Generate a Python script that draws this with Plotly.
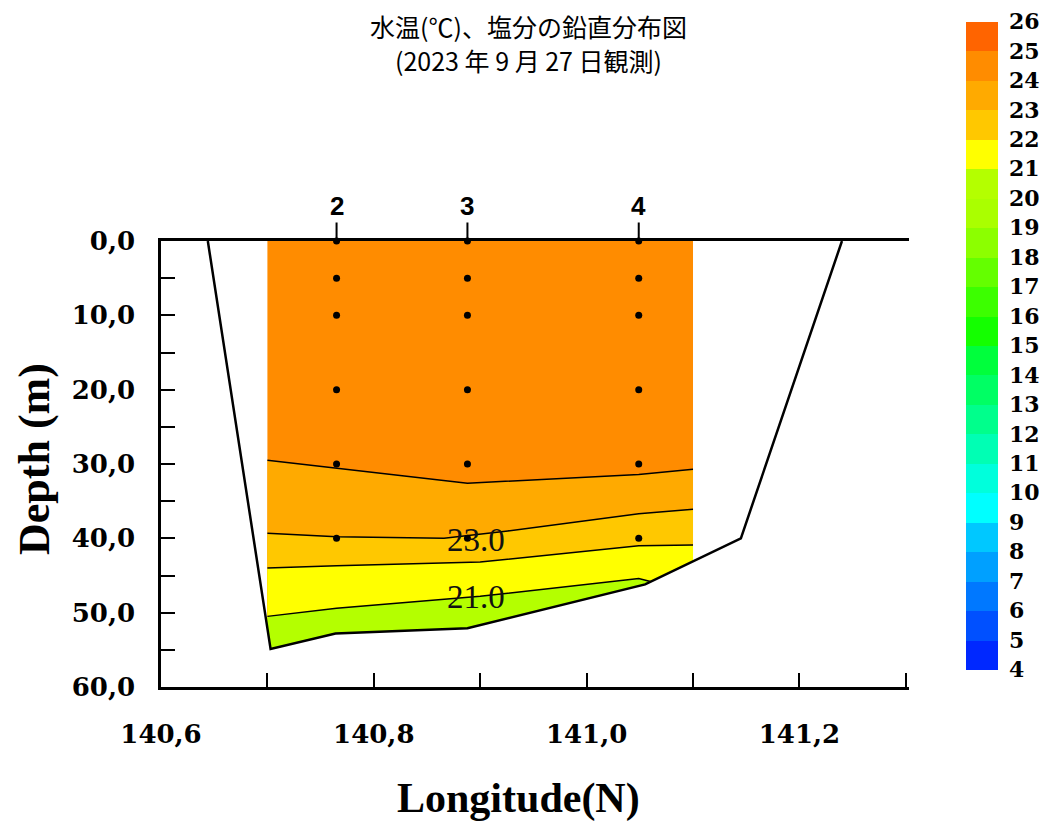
import plotly.graph_objects as go

# ---------------- data ----------------
title_lines = ["水温(℃)、塩分の鉛直分布図", "(2023 年 9 月 27 日観測)"]

station_names = ["2", "3", "4"]
station_lon = [140.765, 140.888, 141.049]
sample_depth = [0, 5, 10, 20, 30, 40]

# extent of the interpolated section (longitude)
section_lon = [140.70, 141.10]
surface_band = 24  # water warmer than 24 degC above the first isotherm

# sea-floor / coast profile (longitude, depth m)
basin_lon = [140.644, 140.703, 140.764, 140.888, 141.055, 141.145, 141.240]
basin_depth = [0, 54.9, 52.8, 52.1, 46.2, 40.0, 0]

# isotherms: depth (m) at given longitudes
iso_levels = [24, 23, 22, 21]
iso24_lon = [140.70, 140.765, 140.888, 141.049, 141.10]
iso24_depth = [29.5, 30.6, 32.6, 31.4, 30.7]
iso23_lon = [140.70, 140.765, 140.866, 140.926, 141.049, 141.10]
iso23_depth = [39.3, 39.8, 40.0, 39.0, 36.7, 36.1]
iso22_lon = [140.70, 140.765, 140.90, 141.049, 141.10]
iso22_depth = [44.0, 43.7, 43.2, 41.0, 40.9]
iso21_lon = [140.70, 140.765, 140.90, 141.049, 141.06]
iso21_depth = [50.5, 49.4, 47.8, 45.4, 45.8]
iso_lon = [iso24_lon, iso23_lon, iso22_lon, iso21_lon]
iso_depth = [iso24_depth, iso23_depth, iso22_depth, iso21_depth]

# contour labels
label_levels = [23.0, 21.0]
label_lon = [140.896, 140.896]
label_depth = [40.2, 47.9]

# colour scale (4 -> 26 degC, one colour per 1 degC)
cbar_min, cbar_max = 4, 26
cbar_colors = [
    "#0028FF", "#0050FF", "#0078FF", "#00A0FF", "#00C8FF", "#00FFFF",
    "#00FFDC", "#00FFB4", "#00FF8C", "#00FF64", "#00FF3C", "#14FF00",
    "#3CFF00", "#64FF00", "#8CFF00", "#AAFF00", "#B4FF00", "#FFFF00",
    "#FFC800", "#FFAA00", "#FF8C00", "#FF6400",
]

x_range = [140.6, 141.303]
y_range = [60, 0]

W, H = 1049, 825
OFF = 7  # page offset of the figure inside the browser body
ML, MR, MT, MB = 160 - OFF, W - (908 - OFF), 240 - OFF, H - (686 - OFF)
PW, PH = W - ML - MR, H - MT - MB


def band_color(level):
    return cbar_colors[int(level) - cbar_min]


def px_to_paper_y(py):
    return ((H - MB) - (py - OFF)) / PH


def px_to_paper_x(px):
    return ((px - OFF) - ML) / PW


fig = go.Figure()

# top band (warmest water)
fig.add_trace(go.Scatter(
    x=[section_lon[0], section_lon[1], section_lon[1], section_lon[0]],
    y=[0, 0, y_range[0], y_range[0]],
    fill="toself", fillcolor=band_color(surface_band), mode="none",
    showlegend=False, hoverinfo="skip"))

# bands below each isotherm
for lev, lx, ly in zip(iso_levels, iso_lon, iso_depth):
    fig.add_trace(go.Scatter(
        x=lx + [lx[-1], lx[0]],
        y=ly + [y_range[0], y_range[0]],
        fill="toself", fillcolor=band_color(lev - 1), mode="none",
        showlegend=False, hoverinfo="skip"))

# white mask outside the basin
fig.add_trace(go.Scatter(
    x=[x_range[0] - 0.05] + basin_lon + [x_range[1] + 0.05, x_range[1] + 0.05, x_range[0] - 0.05],
    y=[0] + basin_depth + [0, y_range[0] + 1, y_range[0] + 1],
    fill="toself", fillcolor="white", mode="none",
    showlegend=False, hoverinfo="skip"))

# isotherm lines
for lx, ly in zip(iso_lon, iso_depth):
    fig.add_trace(go.Scatter(x=lx, y=ly, mode="lines",
                             line=dict(color="black", width=1.5),
                             showlegend=False, hoverinfo="skip"))

# basin outline
fig.add_trace(go.Scatter(x=basin_lon, y=basin_depth, mode="lines",
                         line=dict(color="black", width=2.5),
                         showlegend=False, hoverinfo="skip"))

# observation points
dot_x = [lon for lon in station_lon for _ in sample_depth]
dot_y = [d for _ in station_lon for d in sample_depth]
fig.add_trace(go.Scatter(x=dot_x, y=dot_y, mode="markers",
                         marker=dict(color="black", size=7),
                         cliponaxis=False, showlegend=False))

# colour bar
colorscale = []
n = len(cbar_colors)
for i, c in enumerate(cbar_colors):
    colorscale.append([i / n, c])
    colorscale.append([(i + 1) / n, c])
fig.add_trace(go.Scatter(
    x=[None, None], y=[None, None], mode="markers", showlegend=False,
    marker=dict(color=[cbar_min, cbar_max], cmin=cbar_min, cmax=cbar_max,
                colorscale=colorscale, showscale=True,
                colorbar=dict(
                    xref="container", yref="container",
                    x=(965 - OFF) / W, xanchor="left",
                    y=1 - (32 - OFF) / H, yanchor="top",
                    len=648, lenmode="pixels",
                    thickness=32, thicknessmode="pixels",
                    outlinewidth=0, xpad=0, ypad=0,
                    tickmode="array",
                    tickvals=list(range(cbar_min, cbar_max + 1)),
                    ticktext=[str(v) for v in range(cbar_min, cbar_max + 1)],
                    ticks="outside", ticklen=7, tickcolor="rgba(0,0,0,0)",
                    ticklabeloverflow="allow",
                    tickfont=dict(family="DejaVu Serif", size=22,
                                  color="black", weight="bold"),
                ))))

annotations = []
for i, line in enumerate(title_lines):
    annotations.append(dict(
        x=px_to_paper_x(527), y=px_to_paper_y(25 + 34 * i), xref="paper", yref="paper",
        text=line, showarrow=False, xanchor="center", yanchor="middle",
        font=dict(family="Noto Sans CJK JP", size=25, color="black")))
for name, lon in zip(station_names, station_lon):
    annotations.append(dict(
        x=lon, y=0, xref="x", yref="y", text=name, showarrow=True,
        arrowhead=0, arrowwidth=2, arrowcolor="black", ax=0, ay=-35,
        font=dict(family="Liberation Sans", size=26, color="black", weight="bold")))
for lev, lx, ly in zip(label_levels, label_lon, label_depth):
    annotations.append(dict(
        x=lx, y=ly, xref="x", yref="y", text=f"{lev:.1f}", showarrow=False,
        font=dict(family="Liberation Serif", size=33, color="#111")))
annotations.append(dict(
    x=px_to_paper_x(517), y=px_to_paper_y(797), xref="paper", yref="paper",
    text="Longitude(N)", showarrow=False, xanchor="center", yanchor="middle",
    font=dict(family="Liberation Serif", size=42, color="black", weight="bold")))
annotations.append(dict(
    x=px_to_paper_x(33), y=px_to_paper_y(458), xref="paper", yref="paper",
    text="Depth (m)", showarrow=False, xanchor="center", yanchor="middle", textangle=-90,
    font=dict(family="Liberation Serif", size=44, color="black", weight="bold")))

tickfont = dict(family="DejaVu Serif", size=26, color="black", weight="bold")

fig.update_layout(
    width=W, height=H, autosize=False,
    margin=dict(l=ML, r=MR, t=MT, b=MB, autoexpand=False),
    paper_bgcolor="white", plot_bgcolor="white",
    separators=", ",
    annotations=annotations,
    xaxis=dict(range=x_range, showline=True, linecolor="black", linewidth=2.5,
               mirror=True, ticks="inside", ticklen=14, tickwidth=2, tickcolor="black",
               tick0=140.6, dtick=0.2, tickformat=".1f",
               minor=dict(dtick=0.1, ticks="inside", ticklen=14, tickwidth=2, tickcolor="black"),
               showgrid=False, zeroline=False, tickfont=tickfont,
               ticklabelstandoff=22),
    yaxis=dict(range=y_range, showline=True, linecolor="black", linewidth=2.5,
               ticks="inside", ticklen=14, tickwidth=2, tickcolor="black",
               tick0=0, dtick=10, tickformat=".1f",
               minor=dict(dtick=5, ticks="inside", ticklen=14, tickwidth=2, tickcolor="black"),
               showgrid=False, zeroline=False, tickfont=tickfont,
               ticklabelstandoff=18),
)

fig.write_html("out.html")
